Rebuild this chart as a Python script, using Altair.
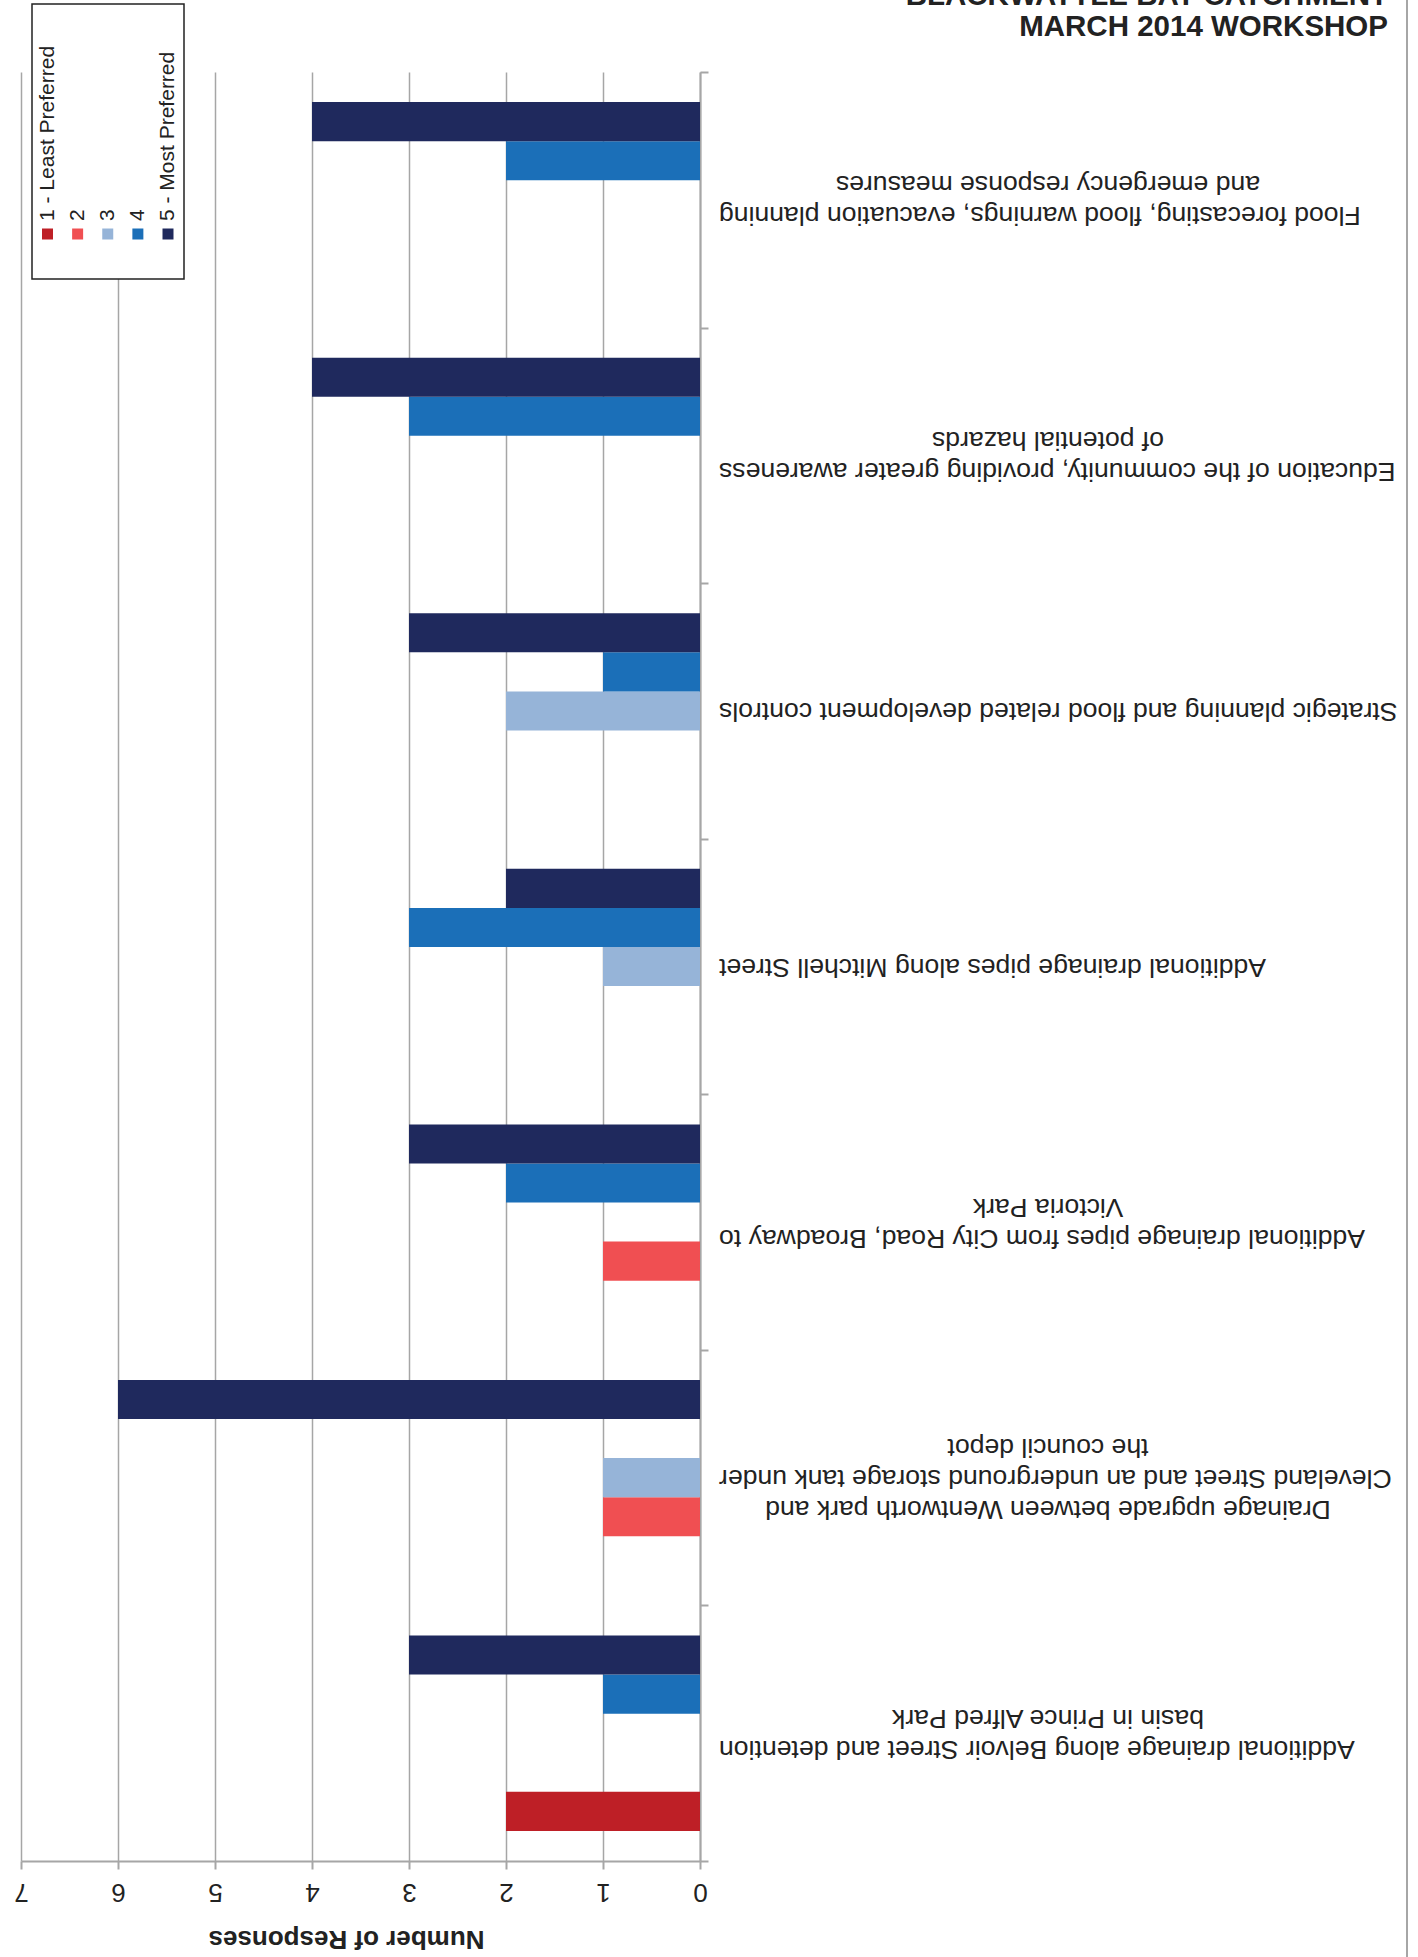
import altair as alt
import pandas as pd

# Options as they appear from top to bottom of the page (label lines separated by "\n")
categories = [
    "Flood forecasting, flood warnings, evacuation planning\nand emergency response measures",
    "Education of the community, providing greater awareness\nof potential hazards",
    "Strategic planning and flood related development controls",
    "Additional drainage pipes along Mitchell Street",
    "Additional drainage pipes from City Road, Broadway to\nVictoria Park",
    "Drainage upgrade between Wentworth park and\nCleveland Street and an underground storage tank under\nthe council depot",
    "Additional drainage along Belvoir Street and detention\nbasin in Prince Alfred Park",
]

levels = [1, 2, 3, 4, 5]
level_names = ["1 - Least Preferred", "2", "3", "4", "5 - Most Preferred"]
level_colors = ["#BE1F26", "#F04F52", "#96B4D8", "#1B6FB8", "#1F295D"]

# Number of responses per preference level, in the category order above
responses = {
    1: [0, 0, 0, 0, 0, 0, 2],
    2: [0, 0, 0, 0, 1, 1, 0],
    3: [0, 0, 2, 1, 0, 1, 0],
    4: [2, 3, 1, 3, 2, 0, 1],
    5: [4, 4, 3, 2, 3, 6, 3],
}

title_lines = ["BLACKWATTLE BAY CATCHMENT", "MARCH 2014 WORKSHOP"]
x_ticks = [0, 1, 2, 3, 4, 5, 6, 7]

FONT = "Liberation Sans"
GRID = "#A6A6A6"
LINE_H = 31

# ---- tables -------------------------------------------------------------
bar_rows = []
for lv in levels:
    for cat, v in zip(categories, responses[lv]):
        if v > 0:
            bar_rows.append({"cat": cat, "level": lv, "value": v})
bars_df = pd.DataFrame(bar_rows)

# One row per label line.  The longest line of a label sits next to the axis,
# the other lines are centred on it; the block is centred on its band.
line_rows = []
for cat in categories:
    lines = cat.split("\n")
    longest = max(range(len(lines)), key=lambda i: len(lines[i]))
    for i, line in enumerate(lines):
        line_rows.append({
            "cat": cat, "line": line, "n": len(lines), "i": i,
            "anchor": "axis" if i == longest else "centre",
        })
lines_df = pd.DataFrame(line_rows)

legend_df = pd.DataFrame({"level": levels, "name": level_names})
title_df = pd.DataFrame({"t": ["\n".join(title_lines)]})
one_row = alt.Data(values=[{}])

W, H = 679, 1789

y_enc = alt.Y(
    "cat:N",
    scale=alt.Scale(domain=categories, paddingInner=0, paddingOuter=0),
    axis=alt.Axis(
        orient="right", labels=False, title=None, grid=False,
        tickBand="extent", tickSize=8, tickWidth=2, tickColor=GRID,
        domainColor=GRID, domainWidth=2,
    ),
)

bars = alt.Chart(bars_df).mark_bar(stroke=None).encode(
    x=alt.X(
        "value:Q",
        scale=alt.Scale(domain=[0, 7], reverse=True, nice=False, zero=True),
        axis=alt.Axis(
            values=x_ticks, grid=True, gridColor=GRID, gridWidth=1.5,
            tickSize=8, tickWidth=2, tickColor=GRID,
            domainColor=GRID, domainWidth=2,
            labelAngle=180, labelAlign="center", labelBaseline="middle",
            labelPadding=22, labelFontSize=26, labelColor="#222222",
            labelFlush=False, labelFont=FONT,
            title="Number of Responses", titleAngle=180, titleFontSize=26,
            titleFontWeight="bold", titleBaseline="middle", titleAlign="center",
            titleX=325, titleY=77, titleColor="#222222", titleFont=FONT,
        ),
    ),
    y=y_enc,
    yOffset=alt.YOffset(
        "level:O", sort="descending",
        scale=alt.Scale(domain=[5, 4, 3, 2, 1], paddingInner=0, paddingOuter=0.77),
    ),
    color=alt.Color(
        "level:O",
        scale=alt.Scale(domain=levels, range=level_colors),
        legend=None,
    ),
)

# Upside-down category labels, one layer per line slot
label_layers = []
combos = lines_df[["n", "i", "anchor"]].drop_duplicates().itertuples(index=False)
for n, i, anchor in combos:
    n, i = int(n), int(i)
    part = alt.Chart(lines_df).transform_filter(
        (alt.datum.n == n) & (alt.datum.i == i) & (alt.datum.anchor == anchor)
    )
    label_layers.append(
        part.mark_text(
            angle=180, baseline="middle", fontSize=26.6, font=FONT, color="#222222",
            align="right" if anchor == "axis" else "center",
            dy=(i - (n - 1) / 2) * LINE_H,
        ).encode(
            x=alt.value(698 if anchor == "axis" else 1027), y=y_enc, text="line:N"
        )
    )

title = alt.Chart(title_df).mark_text(
    align="right", baseline="alphabetic", fontSize=29.5, fontWeight="bold",
    lineHeight=31, lineBreak="\n", font=FONT, color="#222222",
).encode(x=alt.value(1367), y=alt.value(-67), text="t:N")

border = alt.Chart(one_row).mark_rule(color=GRID, strokeWidth=2).encode(
    x=alt.value(1386), y=alt.value(-72), y2=alt.value(1885)
)

legend_box = alt.Chart(one_row).mark_rect(
    fill="white", stroke="#222222", strokeWidth=1.5
).encode(x=alt.value(11), x2=alt.value(163), y=alt.value(-68), y2=alt.value(207))

legend_x = alt.X(
    "level:O", scale=alt.Scale(type="point", range=[26.5, 147], padding=0), axis=None
)
legend_sym = alt.Chart(legend_df).mark_square(size=121, opacity=1).encode(
    x=legend_x, y=alt.value(162),
    color=alt.Color("level:O", scale=alt.Scale(domain=levels, range=level_colors), legend=None),
)
legend_txt = alt.Chart(legend_df).mark_text(
    angle=270, align="left", baseline="middle", fontSize=21, font=FONT, color="#222222"
).encode(x=legend_x, y=alt.value(149), text="name:N")

chart = (
    alt.layer(bars, *label_layers, title, border, legend_box, legend_sym, legend_txt)
    .resolve_scale(x="independent")
    .properties(
        width=W, height=H,
        autosize=alt.AutoSizeParams(type="none"),
        padding={"left": 21, "top": 72, "right": 718, "bottom": 96},
        background="white",
    )
    .configure_view(stroke=None)
)

chart.save("out.html", embed_options={"renderer": "svg", "actions": False})
